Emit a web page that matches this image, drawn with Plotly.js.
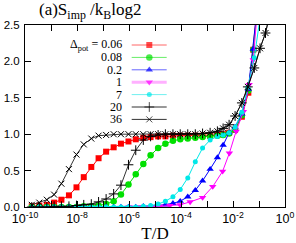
<!DOCTYPE html>
<html><head><meta charset="utf-8">
<script src="https://cdn.plot.ly/plotly-3.0.1.min.js"></script>
<style>html,body{margin:0;padding:0;background:#fff}#chart{width:296px;height:243px}</style>
</head><body><div id="chart"></div>
<script>
// legend labels (Delta_pot values)
const seriesLabels = ["0.06", "0.08", "0.2", "1", "7", "20", "36"];

// log10(T/D) sample positions and S_imp/(k_B log2) values
const logT_006 = [-9.74,-9.45,-9.16,-8.88,-8.60,-8.31,-8.02,-7.74,-7.45,-7.17,-6.88,-6.59,-6.31,-6.02,-5.74,-5.45,-5.17,-4.88,-4.60,-4.31,-4.03,-3.74,-3.45,-3.17,-2.88,-2.60,-2.38,-2.15,-1.92,-1.66,-1.41,-1.22,-1.02];
const S_006    = [0.01,0.02,0.03,0.06,0.10,0.16,0.27,0.41,0.55,0.67,0.76,0.82,0.87,0.90,0.93,0.95,0.96,0.97,0.97,0.98,0.98,0.98,0.98,0.98,0.98,0.99,1.00,1.02,1.06,1.24,1.57,2.16,2.90];

const logT_008 = [-9.74,-9.45,-9.16,-8.88,-8.60,-8.31,-8.02,-7.74,-7.45,-7.17,-6.88,-6.59,-6.31,-6.02,-5.74,-5.45,-5.17,-4.88,-4.60,-4.31,-4.03,-3.74,-3.45,-3.17,-2.88,-2.60,-2.38,-2.15,-1.92,-1.66,-1.41,-1.22,-1.02];
const S_008    = [0,0,0,0,0,0,0,0.01,0.01,0.02,0.04,0.08,0.17,0.31,0.45,0.59,0.71,0.81,0.87,0.91,0.93,0.94,0.95,0.96,0.97,0.98,0.99,1.01,1.06,1.26,1.60,2.16,2.90];

const logT_02  = [-9.74,-9.45,-9.16,-8.88,-8.60,-8.31,-8.02,-7.74,-7.45,-7.17,-6.88,-6.59,-6.31,-6.02,-5.74,-5.45,-5.17,-4.88,-4.60,-4.31,-4.03,-3.74,-3.45,-3.17,-2.88,-2.60,-2.38,-2.15,-1.92,-1.66,-1.41,-1.22,-1.02];
const S_02     = [0,0,0,0,0,0,0,0,0,0,0,0,0,0,0,0.01,0.01,0.02,0.03,0.05,0.08,0.14,0.23,0.36,0.52,0.68,0.85,1.02,1.10,1.28,1.62,2.17,2.90];

const logT_1   = [-6.00,-5.60,-5.21,-4.82,-4.43,-4.04,-3.65,-3.17,-2.78,-2.40,-2.14,-1.88,-1.60,-1.38,-1.22,-1.02];
const S_1      = [0,0,0,0.01,0.02,0.03,0.07,0.13,0.28,0.49,0.74,1.04,1.31,1.68,2.02,2.90];

const logT_7   = [-9.74,-9.45,-9.16,-8.88,-8.60,-8.31,-8.02,-7.74,-7.45,-7.17,-6.88,-6.59,-6.31,-6.02,-5.74,-5.45,-5.17,-4.88,-4.60,-4.31,-4.03,-3.74,-3.45,-3.17,-2.88,-2.60,-2.38,-2.15,-1.92,-1.66,-1.43,-1.18,-0.96];
const S_7      = [0,0,0,0,0,0,0,0,0,0,0,0,0,0,0,0.01,0.02,0.04,0.08,0.14,0.24,0.40,0.62,0.81,0.92,0.97,0.99,1.02,1.10,1.30,1.64,2.05,2.60];

const logT_20  = [-9.74,-9.45,-9.16,-8.88,-8.60,-8.31,-8.02,-7.74,-7.45,-7.17,-6.88,-6.59,-6.31,-6.02,-5.74,-5.45,-5.17,-4.88,-4.60,-4.31,-4.03,-3.74,-3.45,-3.17,-2.88,-2.60,-2.38,-2.15,-1.92,-1.66,-1.43,-1.18,-0.96,-0.75,-0.55];
const S_20     = [0,0,0,0.01,0.01,0.01,0.02,0.03,0.04,0.07,0.11,0.18,0.30,0.58,0.78,0.92,0.97,0.99,1.00,1.00,1.00,1.00,1.00,1.01,1.02,1.04,1.08,1.13,1.25,1.43,1.65,1.91,2.18,2.39,2.70];

const logT_36  = [-9.74,-9.45,-9.16,-8.88,-8.60,-8.31,-8.02,-7.74,-7.45,-7.17,-6.88,-6.59,-6.31,-6.02,-5.74,-5.45,-5.17,-4.88,-4.60,-4.31,-4.03,-3.74,-3.45,-3.17,-2.88,-2.60,-2.38,-2.15,-1.92,-1.66,-1.43,-1.18,-0.96,-0.75,-0.55];
const S_36     = [0.03,0.06,0.10,0.17,0.32,0.52,0.72,0.86,0.94,0.98,0.99,1.00,1.00,1.00,1.00,1.00,1.00,1.00,1.00,1.00,1.00,1.00,1.00,1.01,1.02,1.04,1.08,1.13,1.25,1.43,1.65,1.91,2.18,2.39,2.70];

// axis ticks
const xMajorExp  = [-10,-8,-6,-4,-2,0];
const xTickText  = ["10<sup>-10</sup>","10<sup>-8</sup>","10<sup>-6</sup>","10<sup>-4</sup>","10<sup>-2</sup>","10<sup>0</sup>"];
const xMinorExp  = [-9,-7,-5,-3,-1];
const yTickVals  = [0,0.5,1.0,1.5,2.0,2.5];

const logs = [logT_006, logT_008, logT_02, logT_1, logT_7, logT_20, logT_36];
const vals = [S_006, S_008, S_02, S_1, S_7, S_20, S_36];
const styles = [
  {color:'#ff0000', symbol:'square', size:6, lc:'#ff0000', lw:1, legLc:'#ff6666', legLw:1},
  {color:'#00e000', symbol:'circle', size:6.5, lc:'#00e000', lw:1, legLc:'#66ee66', legLw:1},
  {color:'#0000ff', symbol:'triangle-up', size:6.5, lc:'#0000ff', lw:1, legLc:'#6666ff', legLw:1},
  {color:'#ff00ff', symbol:'triangle-down', size:6.5, lc:'#ff00ff', lw:1, legLc:'#ffb0ff', legLw:3},
  {color:'#00e8e8', symbol:'circle', size:5, lc:'#00e8e8', lw:1, legLc:'#70f0f0', legLw:1},
  {color:'#000000', symbol:'cross-thin-open', size:7, lc:'#000000', lw:0.8, legLc:'#333333', legLw:1},
  {color:'#000000', symbol:'x-thin-open', size:6, lc:'#000000', lw:0.8, legLc:'#333333', legLw:1}
];

const traces = [];
logs.forEach((lg, i) => {
  const st = styles[i];
  const thin = st.symbol.indexOf('thin') >= 0;
  traces.push({
    type:'scatter', mode:'lines+markers',
    x: lg.map(v => Math.pow(10, v)), y: vals[i],
    line:{color:st.lc, width:st.lw},
    marker:{symbol:st.symbol, size:st.size, color:st.color, line:{color:st.color, width: thin ? 1 : 0}},
    showlegend:false, hoverinfo:'skip'
  });
});

// hand-built legend (text left, sample right) on pixel-scaled overlay axes
const legRowY = [45, 57.4, 69.8, 82.2, 94.6, 107, 119.4];
const legX = [131.7, 149.3, 166.7];
const annotations = [];
seriesLabels.forEach((lab, i) => {
  const st = styles[i];
  const thin = st.symbol.indexOf('thin') >= 0;
  traces.push({
    type:'scatter', mode:'lines+markers', xaxis:'x2', yaxis:'y2',
    x: legX, y: [legRowY[i], legRowY[i], legRowY[i]],
    line:{color:st.legLc, width:st.legLw},
    marker:{symbol:st.symbol, size:[0, st.size, 0], color:st.color, line:{color:st.color, width: thin ? 1 : 0}},
    showlegend:false, hoverinfo:'skip', cliponaxis:false
  });
  annotations.push({
    xref:'paper', yref:'paper', x:(123.5-25)/260, y:(207-legRowY[i])/182, xanchor:'right', yanchor:'middle',
    text: i === 0 ? 'Δ<sub>pot</sub> = ' + lab : lab,
    showarrow:false, font:{family:'Liberation Serif', size:12, color:'#000'}
  });
});
annotations.push({
  xref:'paper', yref:'paper', x:(37-25)/260, y:(207-11)/182, xanchor:'left', yanchor:'middle',
  text:'(a)S<sub>imp</sub> /k<sub>B</sub>log2', showarrow:false,
  font:{family:'Liberation Serif', size:17, color:'#000'}
});

const axisCommon = {
  showline:true, linecolor:'#000', linewidth:1, mirror:'ticks',
  ticks:'inside', ticklen:6, tickwidth:1, tickcolor:'#000',
  showgrid:false, zeroline:false
};

const layout = {
  width:296, height:243,
  margin:{l:25, r:11, t:25, b:36, pad:0},
  paper_bgcolor:'#fff', plot_bgcolor:'#fff',
  showlegend:false,
  xaxis: Object.assign({}, axisCommon, {
    type:'log', range:[-10, 0],
    tickvals: xMajorExp.map(e => Math.pow(10, e)), ticktext: xTickText,
    minor:{tickvals: xMinorExp.map(e => Math.pow(10, e)), ticks:'inside', ticklen:6, tickcolor:'#000', tickwidth:1, showgrid:false},
    tickfont:{family:'Liberation Sans', size:12.5, color:'#000'},
    title:{text:'T/D', font:{family:'Liberation Serif', size:17, color:'#000'}, standoff:2}
  }),
  yaxis: Object.assign({}, axisCommon, {
    range:[0, 2.5], tickvals:yTickVals, tickformat:'.1f',
    tickfont:{family:'Liberation Sans', size:11.5, color:'#000'},
    ticklabelstandoff:2
  }),
  xaxis2:{overlaying:'x', range:[25, 285], visible:false, fixedrange:true},
  yaxis2:{overlaying:'y', range:[207, 25], visible:false, fixedrange:true},
  annotations: annotations
};

Plotly.newPlot('chart', traces, layout, {staticPlot:true, displayModeBar:false});
</script>
</body></html>
